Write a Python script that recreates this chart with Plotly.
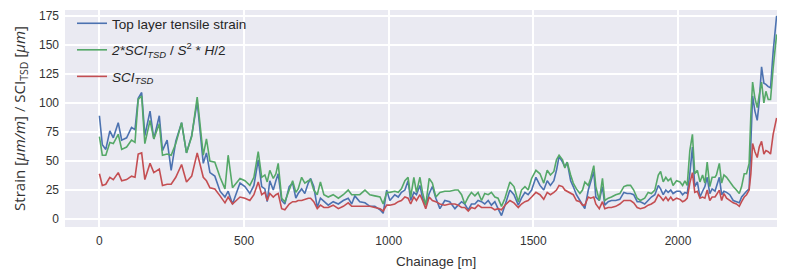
import plotly.graph_objects as go

# ---- data ----
chainage = [0, 10, 22, 36, 48, 65, 77, 94, 111, 123, 134, 146, 157, 175, 188, 207, 218, 234, 248, 264,
            284, 301, 319, 338, 359, 370, 382, 399, 417, 434, 445, 460,
            486, 503, 520, 534, 549, 561, 572, 580, 589, 601, 610, 618, 630, 641, 656, 668, 679, 687,
            699, 710, 722, 730, 741, 753, 764, 776, 791, 808, 826, 843, 860, 872, 883, 900, 918, 935,
            952, 970, 981, 993,
            1004, 1021, 1033, 1044, 1056, 1067, 1076, 1087, 1096, 1108, 1117, 1128, 1140, 1151, 1163,
            1177, 1194, 1211, 1229, 1240, 1252, 1263, 1275, 1286, 1298, 1309, 1321, 1332, 1344, 1355,
            1367, 1378, 1390, 1402, 1419, 1433, 1448, 1459, 1471, 1482, 1494, 1509,
            1523, 1536, 1548, 1559, 1571, 1580, 1589, 1601, 1609, 1617, 1629, 1638, 1649, 1661, 1670,
            1678, 1690, 1698, 1709, 1716, 1728, 1739, 1747, 1759, 1770, 1785, 1799, 1813, 1824, 1836,
            1847, 1859, 1870, 1885, 1897, 1908, 1920, 1932, 1940, 1949, 1958, 1966, 1975, 1983, 1995,
            2007, 2016, 2024, 2032, 2041, 2050, 2058, 2067, 2076, 2085, 2093, 2101, 2110, 2118, 2128,
            2133, 2143, 2151, 2159, 2168, 2179, 2191, 2202, 2212, 2220, 2229, 2237, 2246, 2252, 2258,
            2266, 2274, 2281, 2289, 2297, 2304, 2312, 2320, 2329, 2341]

top_layer_strain = [89, 64, 60, 76, 70, 83, 68, 70, 79, 77, 104, 109, 72, 93, 69, 89, 59, 68, 42, 67,
                    83, 57, 72, 101, 48, 57, 40, 37, 24, 19, 24, 13,
                    31, 28, 22, 29, 51, 28, 26, 15, 33, 25, 33, 39, 16, 13, 28, 31, 18, 22,
                    26, 22, 31, 35, 28, 10, 18, 15, 12, 15, 13, 16, 18, 13, 20, 15, 14, 11,
                    11, 8, 5, 25,
                    16, 21, 19, 23, 25, 33, 16, 23, 21, 29, 18, 12, 22, 28, 18,
                    9, 16, 15, 9, 12, 15, 13, 8, 13, 13, 16, 15, 13, 16, 12,
                    15, 9, 3, 12, 25, 21, 12, 18, 23, 21, 25, 36,
                    29, 25, 33, 29, 33, 42, 54, 49, 45, 49, 33, 28, 21, 16, 12,
                    9, 25, 31, 41, 19, 16, 28, 12, 15, 16, 16, 17, 23, 22, 22,
                    21, 15, 15, 13, 16, 19, 21, 29, 26, 21, 25, 23, 25, 22, 24,
                    24, 21, 23, 22, 39, 62, 28, 32, 19, 24, 28, 36, 22, 26, 24,
                    28, 36, 21, 24, 23, 21, 16, 15, 14, 19, 22, 24, 26, 65, 106,
                    93, 85, 101, 131, 117, 116, 114, 113, 144, 175]

formula_strain = [71, 55, 55, 66, 65, 73, 60, 62, 68, 66, 103, 106, 65, 85, 69, 82, 55, 56, 55, 65,
                  83, 57, 71, 105, 55, 69, 50, 49, 36, 26, 55, 27,
                  35, 33, 29, 36, 58, 36, 38, 32, 42, 35, 39, 48, 18, 15, 25, 33, 23, 26,
                  36, 31, 33, 34, 25, 21, 32, 21, 19, 21, 18, 21, 25, 21, 21, 21, 25, 21,
                  20, 19, 13, 23,
                  23, 24, 23, 26, 33, 36, 19, 36, 23, 36, 23, 12, 35, 31, 19,
                  23, 24, 24, 25, 25, 21, 13, 19, 23, 20, 23, 16, 22, 21, 23,
                  19, 18, 11, 18, 32, 28, 15, 25, 28, 25, 35, 42,
                  39, 31, 42, 38, 41, 51, 55, 51, 44, 49, 38, 31, 26, 22, 25,
                  32, 29, 35, 46, 28, 16, 35, 16, 18, 19, 21, 22, 28, 29, 29,
                  25, 18, 16, 18, 23, 22, 25, 38, 41, 32, 36, 33, 35, 29, 33,
                  32, 29, 33, 29, 59, 73, 39, 42, 32, 38, 31, 49, 28, 36, 36,
                  38, 48, 31, 38, 36, 32, 28, 25, 22, 28, 39, 39, 48, 90, 118,
                  104, 96, 107, 118, 100, 110, 103, 103, 130, 159]

sci_tsd = [39, 29, 30, 36, 34, 40, 33, 34, 37, 36, 56, 57, 34, 48, 40, 43, 29, 30, 30, 36,
           47, 32, 37, 57, 36, 33, 27, 26, 20, 14, 19, 13,
           19, 18, 16, 21, 32, 21, 23, 16, 22, 19, 21, 22, 9, 8, 13, 15, 15, 16,
           16, 17, 18, 18, 15, 9, 12, 10, 10, 12, 9, 11, 14, 11, 11, 11, 11, 11,
           10, 9, 7, 12,
           12, 13, 15, 16, 19, 18, 13, 19, 16, 21, 16, 9, 19, 16, 15,
           13, 12, 13, 13, 12, 10, 10, 7, 10, 9, 12, 10, 10, 10, 10,
           8, 9, 8, 12, 16, 14, 10, 13, 15, 16, 19, 23,
           21, 17, 23, 21, 23, 25, 29, 28, 25, 24, 22, 21, 16, 15, 12,
           12, 19, 18, 19, 13, 9, 15, 9, 10, 10, 11, 13, 16, 16, 16,
           14, 10, 9, 10, 12, 13, 15, 21, 19, 16, 19, 16, 19, 16, 18,
           17, 15, 16, 18, 31, 40, 23, 24, 18, 19, 18, 25, 16, 19, 19,
           21, 25, 16, 22, 18, 16, 14, 13, 11, 15, 19, 21, 25, 39, 65,
           58, 53, 62, 67, 56, 59, 58, 56, 73, 87]

series_names = [
    "Top layer tensile strain",
    "<i>2*SCI<sub>TSD</sub></i> / <i>S</i><sup>2</sup> * <i>H</i>/2",
    "<i>SCI<sub>TSD</sub></i>",
]
series_colors = ["#4C72B0", "#55A868", "#C44E52"]
x_ticks = [0, 500, 1000, 1500, 2000]
y_ticks = [0, 25, 50, 75, 100, 125, 150, 175]

# the page adds an 8px body margin, so the figure is sized/offset to compensate
W, H = 777, 265
L, R, T, B = 57, 0, 0, 46
PLOT_W, PLOT_H = W - L - R, H - T - B

fig = go.Figure()
for i, (name, ys) in enumerate(zip(series_names, [top_layer_strain, formula_strain, sci_tsd])):
    fig.add_trace(go.Scatter(
        x=chainage, y=ys, mode="lines", name=name, legendgroup=f"g{i}",
        line=dict(color=series_colors[i], width=1.6),
    ))

sans = "Liberation Sans, Arial, sans-serif"
tick_font = dict(family=sans, size=12, color="#333333")

fig.update_layout(
    width=W, height=H,
    margin=dict(l=L, r=R, t=T, b=B, pad=0),
    paper_bgcolor="white",
    plot_bgcolor="#EAEAF2",
    showlegend=True,
    legend=dict(
        x=7 / PLOT_W, y=1.01, xanchor="left", yanchor="top",
        bgcolor="rgba(0,0,0,0)", borderwidth=0,
        font=dict(family=sans, size=13.5, color="#262626"),
        tracegroupgap=6, itemwidth=30,
    ),
    xaxis=dict(
        range=[-119, 2370], tickvals=x_ticks, ticktext=[str(v) for v in x_ticks],
        showgrid=True, gridcolor="white", gridwidth=1.5, zeroline=False, showline=False,
        ticks="", tickfont=tick_font, ticklabelstandoff=5,
    ),
    yaxis=dict(
        range=[-6.8, 180.0], tickvals=y_ticks, ticktext=[str(v) for v in y_ticks],
        showgrid=True, gridcolor="white", gridwidth=1.5, zeroline=False, showline=False,
        ticks="", tickfont=tick_font, ticklabelstandoff=5,
        title=dict(
            text="Strain [<i>μm/m</i>] / SCI<sub>TSD</sub> [<i>μm</i>]",
            font=dict(family="Open Sans, DejaVu Sans, sans-serif", size=15, color="#333333"),
            standoff=9,
        ),
    ),
    annotations=[dict(
        text="Chainage [m]", xref="paper", yref="paper",
        x=(428 - L) / PLOT_W, y=-35 / PLOT_H, xanchor="center", yanchor="middle",
        showarrow=False,
        font=dict(family=sans, size=13.5, color="#333333"),
    )],
)

fig.write_html("out.html")
